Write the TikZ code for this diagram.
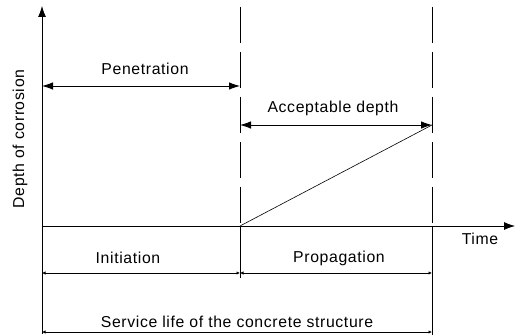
\documentclass[tikz,border=0pt]{standalone}
\usepackage{fontspec}
\setmainfont{Liberation Sans}[LetterSpace=4]
\usetikzlibrary{arrows.meta}
\begin{document}
\begin{tikzpicture}[x=1pt,y=-1pt,
  line width=0.8pt,
  big/.style={-{Latex[length=11pt,width=8pt]}},
  dbl/.style={{Latex[length=11pt,width=7.5pt]}-{Latex[length=11pt,width=7.5pt]}},
  sml/.style={{Latex[length=3.5pt,width=3.5pt]}-{Latex[length=3.5pt,width=3.5pt]}},
  dsh/.style={dash pattern=on 36pt off 9pt},
  lbl/.style={font=\fontsize{15.8}{18}\selectfont, inner sep=0pt}]
\useasboundingbox (0,0) rectangle (516,336);
% key points
\coordinate (O) at (42,226);
\coordinate (Ytop) at (42,6);
\coordinate (Ybot) at (42,334);
\coordinate (Xend) at (515,226);
\coordinate (D1top) at (240,7);
\coordinate (D1ax) at (240,226);
\coordinate (D1bot) at (240,278);
\coordinate (D2top) at (432,7);
\coordinate (D2ax) at (432,226);
\coordinate (D2bot) at (432,335);
\coordinate (P1) at (42,86);
\coordinate (P2) at (240,86);
\coordinate (A1) at (240,125);
\coordinate (A2) at (432,125);
\coordinate (I1) at (42,273);
\coordinate (I2) at (240,273);
\coordinate (I3) at (432,273);
\coordinate (S1) at (42,332);
\coordinate (S2) at (432,332);
% axes
\draw[big] (Ybot) -- (Ytop);
\draw[big] (O) -- (Xend);
% vertical limits
\draw[dsh] (D1top) -- (D1ax);
\draw (D1ax) -- (D1bot);
\draw[dsh] (D2top) -- (D2ax);
\draw (D2ax) -- (D2bot);
% dimension arrows
\draw[dbl] (P1) -- (P2);
\draw[dbl] (A1) -- (A2);
\draw[line width=0.6pt] (D1ax) -- (A2);
\draw[sml] (I1) -- (I2);
\draw[sml] (I2) -- (I3);
\draw[sml] (S1) -- (S2);
% labels
\node[lbl] (lp) at (145,69) {Penetration};
\node[lbl] (la) at (333,108) {Acceptable depth};
\node[lbl] (li) at (128,258) {Initiation};
\node[lbl] (lpr) at (339,258) {Propagation};
\node[lbl] (ls) at (237,322) {Service life of the concrete structure};
\node[lbl] (lt) at (480,239) {Time};
\node[lbl, rotate=90] (ld) at (20,139) {Depth of corrosion};
\end{tikzpicture}
\end{document}
